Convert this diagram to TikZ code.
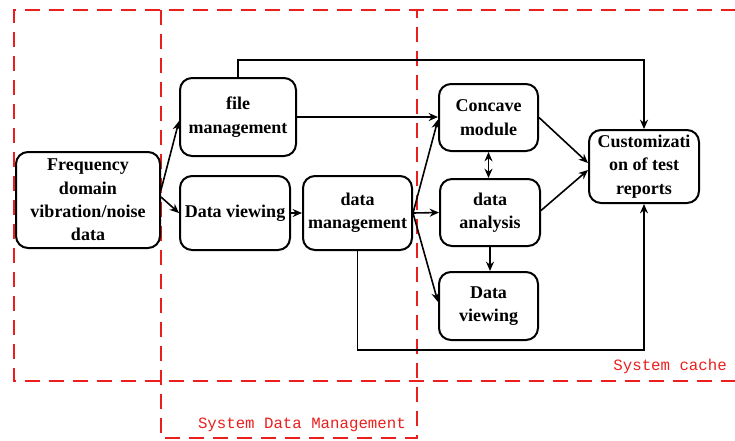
\documentclass[tikz,border=0pt]{standalone}
\usepackage{fontspec}
\setmainfont{Liberation Serif}
\newfontfamily\labfont{Liberation Mono}
\usetikzlibrary{arrows.meta,calc}
\definecolor{zred}{RGB}{235,30,30}
\tikzset{
  box/.style={draw=black, line width=1.5pt, rounded corners=9pt, fill=white, align=center, inner sep=1pt,
    font=\bfseries\fontsize{13.5}{17.5}\selectfont},
  conn/.style={line width=1.2pt, -{Stealth[length=7pt,width=6pt]}},
  zone/.style={draw=zred, line width=1.6pt, dash pattern=on 11pt off 7pt},
  zlabel/.style={text=zred, font=\labfont\fontsize{11.8}{14}\selectfont, inner sep=0pt}
}
\begin{document}
\begin{tikzpicture}[x=0.75pt,y=-0.75pt]
\useasboundingbox (0,0) rectangle (735,440);
% zones
\draw[zone] (760,10) -- (14,10) -- (14,381) -- (760,381);
\draw[zone] (161,10) -- (161,438) -- (417,438) -- (417,10);
\node[zlabel, anchor=east] (lcache) at (727,366) {System cache};
\node[zlabel, anchor=east] (lsdm) at (406,425) {System Data Management};
% nodes
\node[box, minimum width=108pt, minimum height=72pt] (freq) at (88,200) {Frequency\\domain\\vibration/noise\\data};
\node[box, minimum width=87pt, minimum height=58.5pt] (fileM) at (238,117) {file\\management};
\node[box, minimum width=82.5pt, minimum height=55.5pt] (dview1) at (235,213) {Data viewing};
\node[box, minimum width=81.75pt, minimum height=55.5pt] (dmgmt) at (357.5,213) {data\\management};
\node[box, minimum width=74.25pt, minimum height=50.25pt] (concave) at (488.5,117.5) {Concave\\module};
\node[box, minimum width=75pt, minimum height=50.25pt] (danal) at (490,212.5) {data\\analysis};
\node[box, minimum width=74.25pt, minimum height=51pt] (dview2) at (488.5,306) {Data\\viewing};
\node[box, minimum width=82.5pt, minimum height=54.75pt] (cust) at (644,166.5) {Customizati\\on of test\\reports};
\coordinate (topc) at (400,60);
\coordinate (botc) at (500,350);
% connectors
\draw[conn] ($(freq.east)+(0,-10)$) -- ($(fileM.west)+(0,4)$);
\draw[conn] ($(freq.east)+(0,-3)$) -- (dview1.west);
\draw[conn] (dview1.east) -- (dmgmt.west);
\draw[conn] (fileM.east) -- (concave.west |- fileM.east);
\draw[conn] (fileM.north) |- (topc) -| (cust.north);
\draw[conn] (dmgmt.east) -- ($(concave.west)+(0,2)$);
\draw[conn] (dmgmt.east) -- (danal.west);
\draw[conn] (dmgmt.east) -- ($(dview2.west)+(0,-4)$);
\draw[conn] (dmgmt.south) |- (botc) -| (cust.south);
\draw[line width=1.2pt, {Stealth[length=7pt,width=6pt]}-{Stealth[length=7pt,width=6pt]}] (concave.south) -- (concave.south |- danal.north);
\draw[conn] (danal.south) -- (danal.south |- dview2.north);
\draw[conn] (concave.east) -- ($(cust.west)+(0,-3.5)$);
\draw[conn] ($(danal.east)+(0,-2)$) -- ($(cust.west)+(0,3.5)$);
\end{tikzpicture}
\end{document}
